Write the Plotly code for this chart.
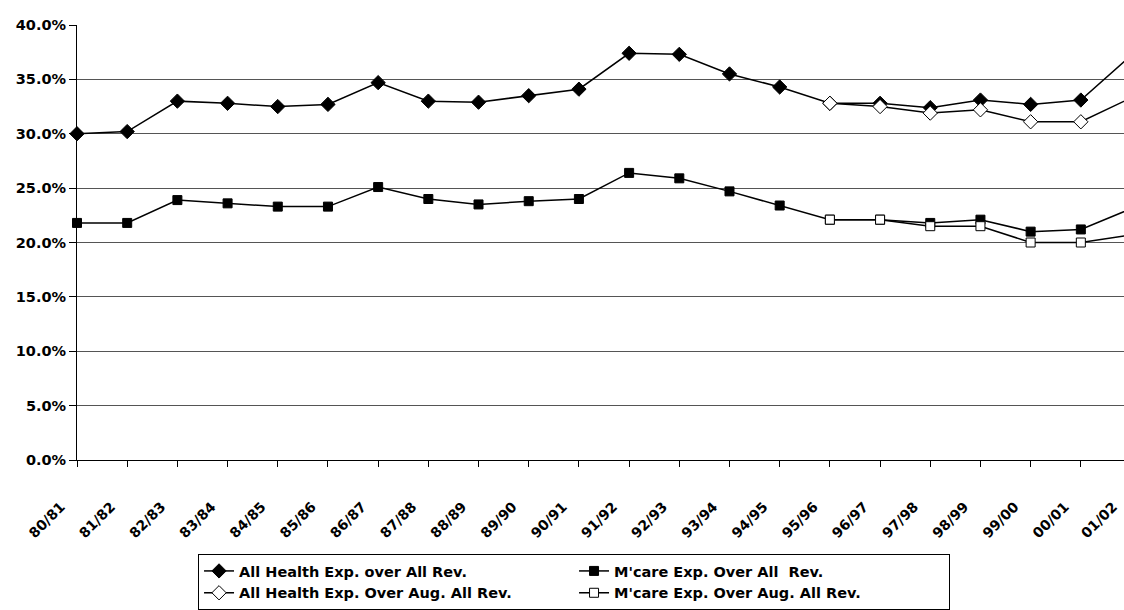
import plotly.graph_objects as go

years = ["80/81", "81/82", "82/83", "83/84", "84/85", "85/86", "86/87", "87/88",
         "88/89", "89/90", "90/91", "91/92", "92/93", "93/94", "94/95", "95/96",
         "96/97", "97/98", "98/99", "99/00", "00/01", "01/02"]

health_all = [30.0, 30.2, 33.0, 32.8, 32.5, 32.7, 34.7, 33.0, 32.9, 33.5, 34.1,
              37.4, 37.3, 35.5, 34.3, 32.8, 32.8, 32.4, 33.1, 32.7, 33.1, 37.2]
mcare_all = [21.8, 21.8, 23.9, 23.6, 23.3, 23.3, 25.1, 24.0, 23.5, 23.8, 24.0,
             26.4, 25.9, 24.7, 23.4, 22.1, 22.1, 21.8, 22.1, 21.0, 21.2, 23.1]
health_aug = [None] * 15 + [32.8, 32.5, 31.9, 32.2, 31.1, 31.1, 33.3]
mcare_aug = [None] * 15 + [22.1, 22.1, 21.5, 21.5, 20.0, 20.0, 20.7]

series_names = ["All Health Exp. over All Rev.", "M'care Exp. Over All  Rev.",
                "All Health Exp. Over Aug. All Rev.", "M'care Exp. Over Aug. All Rev."]

y_ticks = [0, 5, 10, 15, 20, 25, 30, 35, 40]
y_ticktext = [f"{v:.1f}%" for v in y_ticks]
x_range = [0, 20.86]

fig = go.Figure()
specs = [
    (health_all, "diamond", "black", 11),
    (mcare_all, "square", "black", 9),
    (health_aug, "diamond", "white", 11),
    (mcare_aug, "square", "white", 9),
]
for name, (vals, sym, fill, size) in zip(series_names, specs):
    fig.add_trace(go.Scatter(
        x=years, y=vals, name=name, mode="lines+markers",
        line=dict(color="black", width=1.5),
        marker=dict(symbol=sym, size=size, color=fill,
                    line=dict(color="black", width=1)),
        cliponaxis=False, connectgaps=False,
    ))

tick_font = dict(family="DejaVu Sans", size=14.5, color="black", weight="bold")
xtick_font = dict(family="DejaVu Sans", size=14, color="black", weight="bold")

fig.update_layout(
    width=1124, height=610,
    margin=dict(l=77, r=0, t=25, b=148),
    paper_bgcolor="white", plot_bgcolor="white",
    showlegend=True,
    legend=dict(
        orientation="h", x=0.1156, xanchor="left", y=-0.217, yanchor="top",
        bordercolor="black", borderwidth=1, bgcolor="white",
        font=dict(family="DejaVu Sans", size=14.5, color="black", weight="bold"),
        entrywidth=330, traceorder="normal",
    ),
    xaxis=dict(
        type="category", range=x_range, tickangle=-45, tickfont=xtick_font,
        showgrid=False, showline=True, linecolor="black", linewidth=1,
        ticks="outside", ticklen=6, tickcolor="black", zeroline=False,
        ticklabelstandoff=26, ticklabelshift=-16,
    ),
    yaxis=dict(
        range=[0, 40], tickmode="array", tickvals=y_ticks, ticktext=y_ticktext,
        tickfont=tick_font, showgrid=True, gridcolor="#555555", gridwidth=1,
        showline=True, linecolor="black", linewidth=1,
        ticks="outside", ticklen=7, tickcolor="black", zeroline=False,
    ),
)

# Label for the last category, whose tick lies just past the visible range
last_idx = len(years) - 1
fig.add_annotation(
    x=(last_idx - x_range[0]) / (x_range[1] - x_range[0]), xref="paper",
    y=0, yref="paper", yshift=-36, xshift=-8,
    text=years[-1], textangle=-45, showarrow=False,
    xanchor="right", yanchor="top", font=xtick_font,
)

fig.write_html("out.html", config={"displayModeBar": False},
               post_script="document.body.style.margin='0px';")
